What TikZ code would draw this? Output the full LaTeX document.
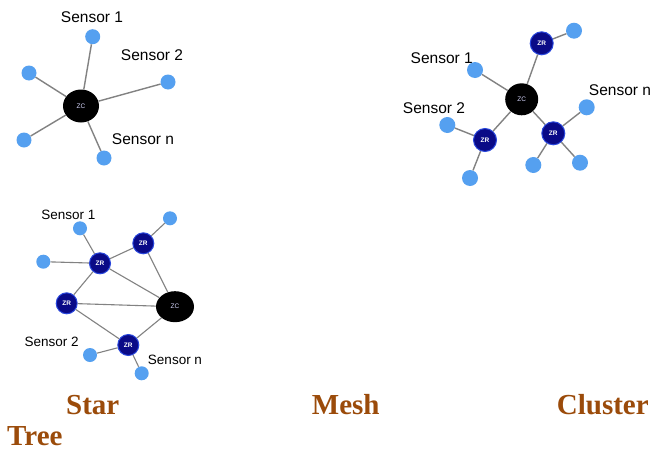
\documentclass[tikz,border=0pt]{standalone}
\usepackage{fontspec}
\setmainfont{Liberation Serif}
\setsansfont{Liberation Sans}
\usetikzlibrary{shapes.geometric}
\definecolor{sensorblue}{RGB}{85,160,240}
\definecolor{zrblue}{RGB}{10,10,135}
\definecolor{zredge}{RGB}{40,70,220}
\definecolor{linkgray}{RGB}{130,130,130}
\definecolor{titlebrown}{RGB}{155,75,10}
\begin{document}
\begin{tikzpicture}[x=1pt, y=-1pt,
    sensor/.style={circle, fill=sensorblue, minimum size=15pt, inner sep=0pt},
    zr/.style={circle, fill=zrblue, draw=zredge, line width=1pt, minimum size=23pt,
               inner sep=0pt, text=white, font=\sffamily\bfseries\fontsize{6.5}{6.5}\selectfont},
    zc/.style={ellipse, fill=black, minimum width=36pt, minimum height=33pt,
               inner sep=0pt, text=white!85!blue, font=\sffamily\fontsize{6.5}{6.5}\selectfont},
    link/.style={draw=linkgray, line width=1.4pt},
    lbl/.style={font=\sffamily\fontsize{15.5}{16}\selectfont},
    title/.style={anchor=base west, inner sep=0pt, text=titlebrown,
                  font=\bfseries\fontsize{29}{29}\selectfont}]
\useasboundingbox (0,0) rectangle (653,450);
\fill[white] (0,0) rectangle (653,450);

\node[zc] (starzc) at (81,106) {ZC};
\foreach \n/\x/\y in {sa/92.7/36.7, sb/29/73, sc/168/82, sd/24/140, se/104/158}
    {\node[sensor] (\n) at (\x,\y) {};
     \draw[link] (starzc) -- (\n);};
\node[lbl] (starlone) at (92,17) {Sensor 1};
\node[lbl] (starltwo) at (152,55) {Sensor 2};
\node[lbl] (starln) at (143,139) {Sensor n};

\node[zc, minimum width=33pt, minimum height=32pt] (clzc) at (521.7,99.3) {ZC};
\foreach \n/\x/\y in {cza/541.7/43.3, czb/485/140, czc/553.3/133.3}
    {\node[zr] (\n) at (\x,\y) {ZR};
     \draw[link] (clzc) -- (\n);};
\foreach \n/\x/\y/\p in {ca/574/30.7/cza, cb/475/70/clzc, cc/447.3/125/czb, cd/470/178/czb,
                         ce/586.7/107.3/czc, cf/533.3/165/czc, cg/580/162.7/czc}
    {\node[sensor, minimum size=16pt] (\n) at (\x,\y) {};
     \draw[link] (\p) -- (\n);};
\node[lbl] (cllone) at (441.7,58.3) {Sensor 1};
\node[lbl] (clltwo) at (434,108.3) {Sensor 2};
\node[lbl] (clln) at (620,90) {Sensor n};

\node[zc, minimum width=38pt, minimum height=31pt] (mszc) at (175,306.7) {ZC};
\foreach \n/\x/\y in {mza/100/263.3, mzb/143.3/243.3, mzc/66.7/303.3, mzd/128.3/345}
    \node[zr, minimum size=21pt] (\n) at (\x,\y) {ZR};
\foreach \a/\b in {mza/mzb, mza/mzc, mza/mszc, mzb/mszc, mzc/mszc, mzc/mzd, mzd/mszc}
    \draw[link, line width=1.1pt] (\a) -- (\b);
\foreach \n/\x/\y/\p in {ma/80/228.3/mza, mb/43.3/261.7/mza, mc/170/218.3/mzb,
                         md/90/355/mzd, me/141.7/373.3/mzd}
    {\node[sensor, minimum size=14pt] (\n) at (\x,\y) {};
     \draw[link, line width=1.1pt] (\p) -- (\n);};
\node[lbl, font=\sffamily\fontsize{13.5}{14}\selectfont] (mslone) at (68.3,215) {Sensor 1};
\node[lbl, font=\sffamily\fontsize{13.5}{14}\selectfont] (msltwo) at (51.7,341.7) {Sensor 2};
\node[lbl, font=\sffamily\fontsize{13.5}{14}\selectfont] (msln) at (175,360) {Sensor n};

\node[title] (tstar) at (66,414) {Star};
\node[title] (tmesh) at (311.7,414) {Mesh};
\node[title] (tcluster) at (556.7,414) {Cluster};
\node[title] (ttree) at (7,445) {Tree};
\end{tikzpicture}
\end{document}
